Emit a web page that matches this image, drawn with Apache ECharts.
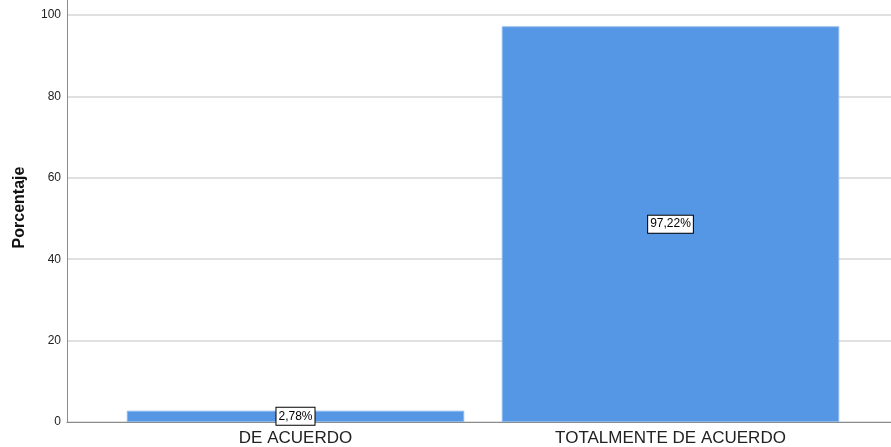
<!DOCTYPE html>
<html>
<head>
<meta charset="utf-8">
<script src="https://cdn.jsdelivr.net/npm/echarts@6/dist/echarts.min.js"></script>
<style>
  html, body { margin: 0; padding: 0; background: #fff; }
  #chart { width: 891px; height: 447px; }
</style>
</head>
<body>
<div id="chart"></div>
<script>
// datos del gráfico
const categories = ['DE ACUERDO', 'TOTALMENTE DE ACUERDO']
const percentages = [2.78, 97.22]
const yTicks = [0, 20, 40, 60, 80, 100]

const chart = echarts.init(document.getElementById('chart'))
const font = 'Liberation Sans, Arial, sans-serif'

const option = {
  animation: false,
  backgroundColor: '#ffffff',
  textStyle: { fontFamily: font },
  grid: [
    // rejilla con ejes y líneas guía
    { left: 67, right: 0, top: 15, bottom: 25 },
    // rejilla de las barras
    { left: 108, right: 33, top: 15, bottom: 25 },
    // prolongación del eje Y por encima de 100
    { left: 67, right: 0, top: 0, bottom: 25 }
  ],
  xAxis: [
    {
      gridIndex: 0, type: 'value', min: 0, max: 1,
      axisLine: { show: true, lineStyle: { color: '#8c8c8c', width: 1 } },
      axisTick: { show: false }, axisLabel: { show: false }, splitLine: { show: false }
    },
    {
      gridIndex: 1, type: 'category', data: categories,
      axisLine: { show: false }, axisTick: { show: false },
      axisLabel: { color: '#222', fontSize: 17, margin: 8, fontFamily: font }
    },
    {
      gridIndex: 2, type: 'value', show: false, min: 0, max: 1
    }
  ],
  yAxis: [
    {
      gridIndex: 0, type: 'value', min: yTicks[0], max: yTicks[yTicks.length - 1], interval: 20,
      name: 'Porcentaje', nameLocation: 'middle', nameGap: 39, nameRotate: 90,
      nameTextStyle: { fontWeight: 'bold', fontSize: 16, color: '#111', fontFamily: font, padding: [0, 0, 0, 22] },
      axisLine: { show: true, lineStyle: { color: '#8c8c8c', width: 1 } },
      axisTick: { show: false },
      axisLabel: { color: '#222', fontSize: 12, margin: 6, fontFamily: font },
      splitLine: { show: true, lineStyle: { color: '#d6d6d6', width: 1.5 } }
    },
    {
      gridIndex: 1, type: 'value', min: 0, max: 100, show: false
    },
    {
      gridIndex: 2, type: 'value', min: 0, max: 1,
      axisLine: { show: true, lineStyle: { color: '#8c8c8c', width: 1 } },
      axisTick: { show: false }, axisLabel: { show: false }, splitLine: { show: false }
    }
  ],
  series: [
    {
      type: 'bar',
      xAxisIndex: 1,
      yAxisIndex: 1,
      data: percentages,
      barCategoryGap: '10%',
      itemStyle: { color: '#5596e5', borderColor: '#8cb8ee', borderWidth: 1 },
      label: {
        show: true,
        position: 'inside',
        formatter: p => p.value.toFixed(2).replace('.', ',') + '%',
        color: '#000',
        fontSize: 12,
        fontFamily: font,
        backgroundColor: '#fff',
        borderColor: '#000',
        borderWidth: 1,
        padding: [3, 2, 2, 2]
      }
    }
  ]
}

chart.setOption(option)
</script>
</body>
</html>
